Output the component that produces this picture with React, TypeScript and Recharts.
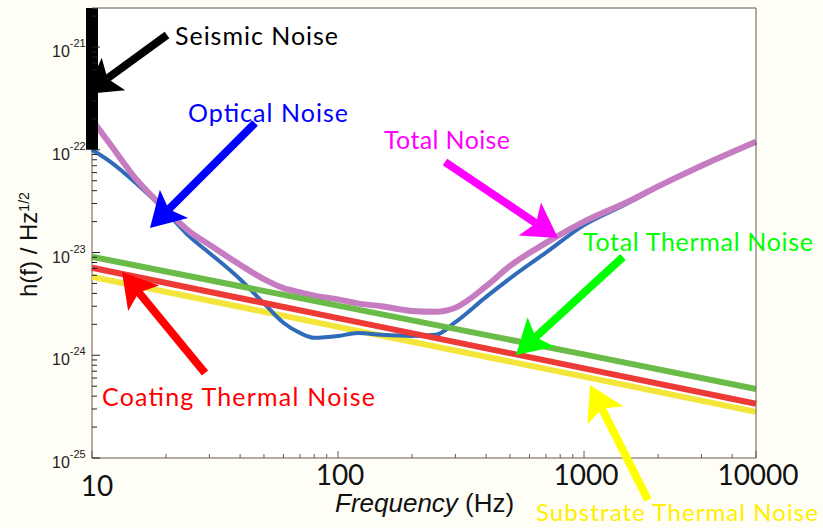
import { LineChart, Line, XAxis, YAxis, CartesianGrid } from 'recharts'

const W = 823
const H = 528

// frequencies in Hz, strain noise in 1/sqrt(Hz)
const seismicFreq = [10, 10]
const seismicNoise = [1.0e-22, 2.4e-21]

const curveFreq = [10, 12, 15, 20, 25, 30, 40, 50, 60, 70, 80, 100, 120, 150, 200, 250, 300, 400, 500, 700, 1000, 1500, 2000, 3000, 5000]
const opticalNoise = [
  1.0e-22, 7.5e-23, 4.8e-23, 2.5e-23, 1.42e-23, 9.9e-24, 5.5e-24, 3.2e-24, 2.07e-24, 1.65e-24, 1.48e-24, 1.54e-24,
  1.65e-24, 1.58e-24, 1.54e-24, 1.58e-24, 2.1e-24, 3.7e-24, 5.6e-24, 1.0e-23, 1.85e-23, 3.0e-23, 4.35e-23, 6.9e-23, 1.18e-22,
]
const totalNoise = [
  1.96e-22, 1.09e-22, 5.3e-23, 2.6e-23, 1.59e-23, 1.19e-23, 7.6e-24, 5.5e-24, 4.5e-24, 4.1e-24, 3.8e-24, 3.5e-24,
  3.2e-24, 3.0e-24, 2.7e-24, 2.65e-24, 2.9e-24, 4.7e-24, 7.4e-24, 1.24e-23, 2.0e-23, 3.1e-23, 4.4e-23, 7.0e-23, 1.2e-22,
]

const thermalFreq = [10, 100, 1000, 5000]
const totalThermal = [9.1e-24, 3.04e-24, 1.02e-24, 4.7e-25]
const coatingThermal = [7.1e-24, 2.3e-24, 7.46e-25, 3.37e-25]
const substrateThermal = [5.8e-24, 1.89e-24, 6.2e-25, 2.81e-25]

// axis ticks
const freqTicks = [10, 100, 1000, 5000]
const freqTickLabels = ['10', '100', '1000', '10000']
const freqMinor = [20, 30, 40, 50, 60, 70, 80, 90, 200, 300, 400, 500, 600, 700, 800, 900, 2000, 3000, 4000]
const strainTicks = [1e-25, 1e-24, 1e-23, 1e-22, 1e-21]
const strainExp = ['-25', '-24', '-23', '-22', '-21']
const strainMinor = [1e-25, 1e-24, 1e-23, 1e-22].flatMap((d) => [2, 3, 4, 5, 6, 7, 8, 9].map((m) => m * d)).concat([2e-21])

const zip = (f: number[], v: number[]) => f.map((x, i) => ({ f: x, h: v[i] }))

const AXIS = '#6b5550'
const ARIAL = '"Liberation Sans", Arial, sans-serif'
const ROUND = 'Lato, "Liberation Sans", sans-serif'

function BottomTick(p: any) {
  const i = freqTicks.indexOf(p.payload.value)
  const first = i === 0
  return (
    <g>
      <line x1={p.x} x2={p.x} y1={p.y} y2={p.y - (i >= 0 ? 7 : 4)} stroke={AXIS} />
      {i >= 0 && (
        <text x={p.x + (first ? 5 : 2)} y={p.y + (first ? 38 : 27)} textAnchor="middle" fontSize={28} fontFamily={ROUND} fill="#111">
          {freqTickLabels[i]}
        </text>
      )}
    </g>
  )
}

function TopTick(p: any) {
  const major = freqTicks.includes(p.payload.value)
  return <line x1={p.x} x2={p.x} y1={p.y} y2={p.y + (major ? 7 : 4)} stroke={AXIS} />
}

function LeftTick(p: any) {
  const i = strainTicks.indexOf(p.payload.value)
  return (
    <g>
      <line x1={p.x} x2={p.x + (i >= 0 ? 8 : 5)} y1={p.y} y2={p.y} stroke="#222" />
      {i >= 0 && (
        <text x={p.x - 40} y={p.y + 10} fontSize={16} fontFamily={ARIAL} fill="#222">
          10
          <tspan fontSize={11} dy={-10}>{strainExp[i]}</tspan>
        </text>
      )}
    </g>
  )
}

function RightTick(p: any) {
  const major = strainTicks.includes(p.payload.value)
  return <line x1={p.x} x2={p.x - (major ? 8 : 5)} y1={p.y} y2={p.y} stroke="#222" />
}

type Pt = [number, number]

function Arrow({ tail, tip, color }: { tail: Pt; tip: Pt; color: string }) {
  const L = 34
  const HW = 20
  const dx = tip[0] - tail[0]
  const dy = tip[1] - tail[1]
  const len = Math.hypot(dx, dy)
  const ux = dx / len
  const uy = dy / len
  const bx = tip[0] - ux * L
  const by = tip[1] - uy * L
  const nx = tip[0] - ux * L * 0.78
  const ny = tip[1] - uy * L * 0.78
  const pts = [
    [tip[0], tip[1]],
    [bx - uy * HW, by + ux * HW],
    [nx, ny],
    [bx + uy * HW, by - ux * HW],
  ]
    .map((q) => q.join(','))
    .join(' ')
  return (
    <g>
      <line x1={tail[0]} y1={tail[1]} x2={nx} y2={ny} stroke={color} strokeWidth={8} />
      <polygon points={pts} fill={color} />
    </g>
  )
}

function Note({ x, y, w, size = 25, color, children }: { x: number; y: number; w: number; size?: number; color: string; children: string }) {
  return (
    <text x={x} y={y} fontSize={size} fontFamily={ROUND} fill={color} textLength={w} lengthAdjust="spacing">
      {children}
    </text>
  )
}

export default function App() {
  return (
    <div style={{ position: 'absolute', left: 0, top: 0, width: W, height: H, background: '#fffef6', overflow: 'hidden' }}>
      <LineChart width={W} height={H} margin={{ top: 7, right: 66, bottom: 69, left: 91 }}>
        {/* white plot face; its one vertical grid line is the left frame edge, kept under the seismic bar */}
        <CartesianGrid
          fill="#ffffff"
          stroke={AXIS}
          horizontal={false}
          verticalCoordinatesGenerator={({ offset }: any) => [offset.left]}
          xAxisId="f"
          yAxisId="h"
        />
        <XAxis
          xAxisId="f"
          dataKey="f"
          type="number"
          scale="log"
          domain={[10, 5000]}
          ticks={[...freqTicks, ...freqMinor]}
          interval={0}
          height={1}
          tickSize={0}
          tickMargin={0}
          tick={BottomTick}
          tickLine={false}
          axisLine={{ stroke: AXIS }}
        />
        <XAxis
          xAxisId="ft"
          orientation="top"
          type="number"
          scale="log"
          domain={[10, 5000]}
          ticks={[...freqTicks, ...freqMinor]}
          interval={0}
          height={1}
          tickSize={0}
          tickMargin={0}
          tick={TopTick}
          tickLine={false}
          axisLine={{ stroke: AXIS }}
        />
        <YAxis
          yAxisId="h"
          dataKey="h"
          type="number"
          scale="log"
          domain={[1e-25, 2.4e-21]}
          ticks={[...strainTicks, ...strainMinor]}
          interval={0}
          width={1}
          tickSize={0}
          tickMargin={0}
          tick={LeftTick}
          tickLine={false}
          axisLine={false}
        />
        <YAxis
          yAxisId="hr"
          orientation="right"
          type="number"
          scale="log"
          domain={[1e-25, 2.4e-21]}
          ticks={[...strainTicks, ...strainMinor]}
          interval={0}
          width={1}
          tickSize={0}
          tickMargin={0}
          tick={RightTick}
          tickLine={false}
          axisLine={{ stroke: AXIS }}
        />
        <Line xAxisId="f" yAxisId="h" data={zip(thermalFreq, substrateThermal)} dataKey="h" type="linear" stroke="#f3e53a" strokeWidth={6} dot={false} isAnimationActive={false} />
        <Line xAxisId="f" yAxisId="h" data={zip(curveFreq, opticalNoise)} dataKey="h" type="monotone" stroke="#2f6bb8" strokeWidth={4} dot={false} isAnimationActive={false} />
        <Line xAxisId="f" yAxisId="h" data={zip(curveFreq, totalNoise)} dataKey="h" type="monotone" stroke="#c57cc0" strokeWidth={6} dot={false} isAnimationActive={false} />
        <Line xAxisId="f" yAxisId="h" data={zip(thermalFreq, totalThermal)} dataKey="h" type="linear" stroke="#6bbb48" strokeWidth={6} dot={false} isAnimationActive={false} />
        <Line xAxisId="f" yAxisId="h" data={zip(thermalFreq, coatingThermal)} dataKey="h" type="linear" stroke="#ee3a36" strokeWidth={6} dot={false} isAnimationActive={false} />
        <Line xAxisId="f" yAxisId="h" data={zip(seismicFreq, seismicNoise)} dataKey="h" type="linear" stroke="#000000" strokeWidth={12} dot={false} isAnimationActive={false} />
      </LineChart>

      <svg width={W} height={H} style={{ position: 'absolute', left: 0, top: 0, pointerEvents: 'none' }}>
        <text transform="translate(37,297) rotate(-90)" fontSize={24} fontFamily={ARIAL} fill="#111">
          h(f) / Hz
          <tspan fontSize={14} dy={-8}>1/2</tspan>
        </text>
        <text x={335} y={512} fontSize={26} fontFamily={ARIAL} fill="#111">
          <tspan fontStyle="italic">Frequency</tspan> (Hz)
        </text>

        <Arrow tail={[167, 35]} tip={[86, 94]} color="#000000" />
        <Arrow tail={[255, 123]} tip={[150, 228]} color="#0000ff" />
        <Arrow tail={[445, 162]} tip={[558, 238]} color="#ff00ff" />
        <Arrow tail={[623, 257]} tip={[516, 355]} color="#00ff00" />
        <Arrow tail={[205, 373]} tip={[122, 272]} color="#ff0000" />
        <Arrow tail={[648, 500]} tip={[590, 385]} color="#ffff00" />

        <Note x={175} y={45} w={163} color="#000000">Seismic Noise</Note>
        <Note x={188} y={122} w={160} color="#0000ff">Optical Noise</Note>
        <Note x={384} y={149} w={126} color="#ff00ff">Total Noise</Note>
        <Note x={583} y={251} w={230} color="#00ff00">Total Thermal Noise</Note>
        <Note x={102} y={406} w={273} color="#ff0000">Coating Thermal Noise</Note>
        <Note x={536} y={521} w={282} size={24} color="#ffee00">Substrate Thermal Noise</Note>
      </svg>
    </div>
  )
}
